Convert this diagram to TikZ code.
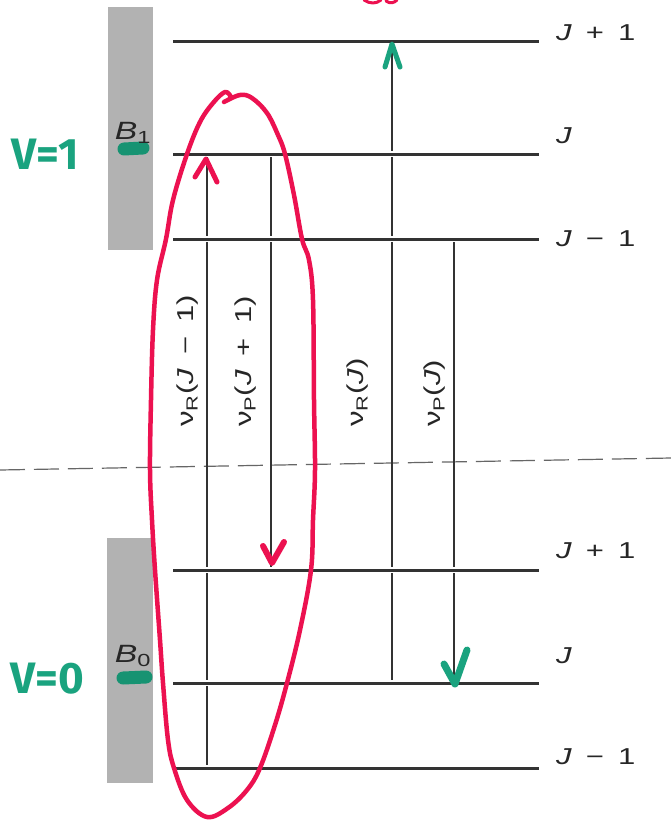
\documentclass[tikz,border=0pt]{standalone}
\usepackage{fontspec}
\setmainfont{Liberation Sans}
\newfontfamily\markfont{Fira Sans}
\usepackage{graphicx}
\usepackage{tikz}
\usetikzlibrary{positioning}
\definecolor{levelgray}{HTML}{333333}
\definecolor{penred}{HTML}{EC1150}
\definecolor{pengreen}{HTML}{1AA37F}
\newcommand{\widen}[1]{\scalebox{1.35}[1]{#1}}

\begin{document}
\begin{tikzpicture}[x=1pt, y=-1pt,
  font=\fontsize{23}{27}\selectfont,
  level/.style={draw=levelgray, line width=3pt, preaction={draw=white, line width=6pt}},
  trans/.style={draw=levelgray, line width=1.8pt},
  divider/.style={draw=black!60, line width=1.2pt, dash pattern=on 25pt off 9pt},
  lvl/.style={inner sep=0pt, text=black!85},
  tlbl/.style={lvl, rotate=90, anchor=west},
  bar/.style={fill=black!30},
  redpen/.style={draw=penred, line width=4.5pt, line cap=round, line join=round},
  greenpen/.style={draw=pengreen, line width=5pt, line cap=round, line join=round},
  vmark/.style={text=pengreen, font=\markfont\bfseries\fontsize{44}{50}\selectfont}]
\fill[white] (0,0) rectangle (671,822);
\useasboundingbox (0,0) rectangle (671,822);
% divider between the two vibrational states
\coordinate (divl) at (0,470);
\coordinate (divr) at (671,458);
\draw[divider] (divl) -- (divr);
% shaded bars
\fill[bar] (108,7) rectangle (153,250);
\fill[bar] (107,538) rectangle (153,783);
% rotational levels, a = v=1, b = v=0
\foreach \n/\y in {a2/41,a1/154,a0/239,b2/570,b1/683,b0/768}{
  \coordinate (\n w) at (173,\y);
  \coordinate (\n e) at (539,\y);
}
\coordinate (c1) at (207,0); \coordinate (c2) at (271,0);
\coordinate (c3) at (392,0); \coordinate (c4) at (454,0);
% transitions
\draw[trans] (c1 |- b0w) -- (c1 |- a1w);
\draw[trans] (c2 |- a1w) -- (c2 |- b2w);
\draw[trans] (c3 |- b1w) -- (c3 |- a2w);
\draw[trans] (c4 |- a0w) -- (c4 |- b1w);
\foreach \n in {a2,a1,a0,b2,b1,b0} \draw[level] (\n w) -- (\n e);
% level labels
\node[lvl, right=17pt of a2e, yshift=8pt] (la2) {\widen{\textit{J}\hspace{0.45em}+\hspace{0.45em}1}};
\node[lvl, right=17pt of a1e, yshift=18pt] (la1) {\widen{\textit{J}}};
\node[lvl, right=17pt of a0e] (la0) {\widen{\textit{J}\hspace{0.45em}−\hspace{0.45em}1}};
\node[lvl, right=17pt of b2e, yshift=19pt] (lb2) {\widen{\textit{J}\hspace{0.45em}+\hspace{0.45em}1}};
\node[lvl, right=17pt of b1e, yshift=27pt] (lb1) {\widen{\textit{J}}};
\node[lvl, right=17pt of b0e, yshift=11pt] (lb0) {\widen{\textit{J}\hspace{0.45em}−\hspace{0.45em}1}};
% transition labels
\node[tlbl] (tR1) at (188,427) {\widen{ν\textsubscript{R}(\textit{J}\hspace{0.45em}−\hspace{0.45em}1)}};
\node[tlbl] (tP1) at (246,427) {\widen{ν\textsubscript{P}(\textit{J}\hspace{0.45em}+\hspace{0.45em}1)}};
\node[tlbl] (tR0) at (358,427) {\widen{ν\textsubscript{R}(\textit{J})}};
\node[tlbl] (tP0) at (435,427) {\widen{ν\textsubscript{P}(\textit{J})}};
% rotational constants
\draw[greenpen, line width=13pt, draw=pengreen!90!black] (124,149) -- (143,148);
\draw[greenpen, line width=13pt, draw=pengreen!90!black] (123,678) -- (146,677);
\node[lvl, font=\fontsize{25}{29}\selectfont] (B1) at (133,133) {\widen{\textit{B}\textsubscript{1}}};
\node[lvl, font=\fontsize{25}{29}\selectfont] (B0) at (133,656) {\widen{\textit{B}\textsubscript{0}}};
% hand annotations
\node[vmark] (v1) at (45,154) {V=1};
\node[vmark] (v0) at (47,679) {V=0};
\draw[greenpen] (385,67) -- (392,44) -- (400,67);
\draw[greenpen, line width=7pt] (444,664) -- (455,684) -- (467,650);
\draw[redpen] plot[smooth, tension=0.6] coordinates {(231,97) (225,92) (213,103) (200,122)
  (187,154) (173,200) (166,239) (157,280) (153,330) (151,400) (150,470) (152,520)
  (155,570) (160,640) (163,683) (168,740) (174,768) (187,800) (207,817) (228,808)
  (247,790) (260,768) (275,725) (287,683) (300,630) (311,570) (313,520) (315,470)
  (314,400) (313,300) (309,260) (302,239) (294,195) (285,154) (278,135) (267,113)
  (252,98) (240,95) (224,102)};
\draw[redpen, line width=5pt] (195,177) -- (206,159) -- (217,182);
\draw[redpen, line width=6pt] (263,546) -- (272,563) -- (284,542);
\draw[redpen, line width=3pt] (364,0) .. controls (370,4) and (376,4) .. (381,0);
\draw[redpen, line width=3pt] (386,1) .. controls (390,4) and (394,3) .. (397,0);
\end{tikzpicture}
\end{document}
